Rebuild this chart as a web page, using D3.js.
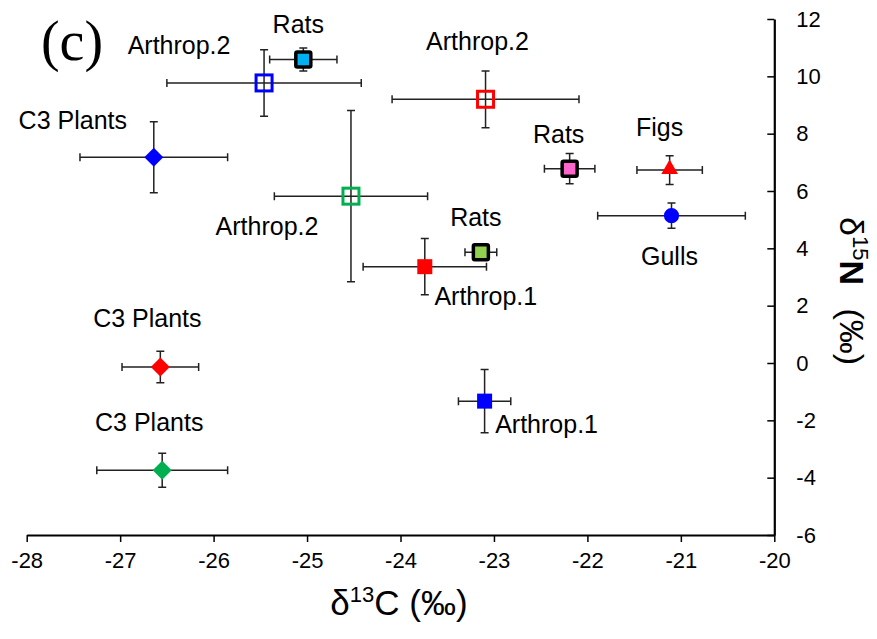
<!DOCTYPE html>
<html>
<head>
<meta charset="utf-8">
<script src="https://cdn.jsdelivr.net/npm/d3@7"></script>
<style>
  body { margin: 0; background: #fff; }
  text { font-family: "Liberation Sans", Arial, sans-serif; }
</style>
</head>
<body>
<div id="chart-container"></div>
<script>
// data (mean +/- sd)
const labels = ["Rats", "Arthrop.2", "C3 Plants", "Arthrop.2", "Arthrop.1", "Arthrop.2", "Rats",
                "Figs", "Gulls", "Rats", "C3 Plants", "C3 Plants", "Arthrop.1"];
const d13C   = [-25.04, -25.46, -26.64, -24.53, -23.74, -23.09, -22.19, -21.12, -21.10, -23.14, -26.57, -26.55, -23.10];
const d15N   = [10.59, 9.77, 7.18, 5.82, 3.36, 9.20, 6.78, 6.73, 5.14, 3.86, -0.14, -3.74, -1.33];
const errC   = [0.36, 1.04, 0.79, 0.82, 0.66, 1.00, 0.27, 0.35, 0.79, 0.17, 0.41, 0.70, 0.28];
const errN   = [0.40, 1.16, 1.24, 2.99, 0.98, 0.99, 0.53, 0.50, 0.44, 0.20, 0.55, 0.59, 1.10];
const shapes = ["rat", "open", "diamond", "open", "square", "open", "rat",
                "triangle", "circle", "rat", "diamond", "diamond", "square"];
const colors = ["#00b0f0", "#0000ff", "#0000ff", "#00b050", "#ff0000", "#ff0000", "#ff66cc",
                "#ff0000", "#0000ff", "#92d050", "#ff0000", "#00b050", "#0000ff"];
const xTicks = [-28, -27, -26, -25, -24, -23, -22, -21, -20];
const yTicks = [-6, -4, -2, 0, 2, 4, 6, 8, 10, 12];

// label placement (pixels from the point)
const labelDx = [-5, -85, -81, -84, 61, -8, -11, -10, -2, -5, -13, -13, 62];
const labelDy = [-26, -29, -28, 39, 38, -49, -26, -34, 49, -26, -40, -39, 32];

const data = labels.map((l, i) => ({
  label: l, x: d13C[i], y: d15N[i], ex: errC[i], ey: errN[i],
  shape: shapes[i], color: colors[i], dx: labelDx[i], dy: labelDy[i]
}));

const W = 877, H = 639;
const x = d3.scaleLinear().domain([-28, -20]).range([26.7, 774.3]);
const y = d3.scaleLinear().domain([-6, 12]).range([535, 19]);

const svg = d3.select("#chart-container")
  .append("svg")
  .attr("width", W)
  .attr("height", H);

// x axis
svg.append("g")
  .attr("transform", `translate(0,${y(-6)})`)
  .call(d3.axisBottom(x).tickValues(xTicks).tickSize(7).tickSizeOuter(0).tickPadding(10)
    .tickFormat(d => d))
  .call(g => g.select(".domain").attr("stroke-width", 2.2))
  .call(g => g.selectAll(".tick line").attr("stroke-width", 1.5))
  .call(g => g.selectAll(".tick text").style("font-size", "22px").attr("fill", "#000")
    .style("font-family", "'Liberation Sans', Arial, sans-serif"));

// y axis on the right, ticks pointing inward
svg.append("g")
  .attr("transform", `translate(${x(-20)},0)`)
  .call(d3.axisRight(y).tickValues(yTicks).tickSizeInner(-7).tickSizeOuter(0).tickPadding(22)
    .tickFormat(d => d))
  .call(g => g.select(".domain").attr("stroke-width", 2.2))
  .call(g => g.selectAll(".tick line").attr("stroke-width", 1.5))
  .call(g => g.selectAll(".tick text").style("font-size", "22px").attr("fill", "#000")
    .style("font-family", "'Liberation Sans', Arial, sans-serif"));

// error bars
const cap = 4;
const eb = svg.append("g").attr("stroke", "#222").attr("stroke-width", 1.5).attr("fill", "none");
data.forEach(d => {
  const cx = x(d.x), cy = y(d.y);
  const x0 = x(d.x - d.ex), x1 = x(d.x + d.ex);
  const y0 = y(d.y + d.ey), y1 = y(d.y - d.ey);
  eb.append("path").attr("d",
    `M${x0},${cy}H${x1}M${x0},${cy - cap}V${cy + cap}M${x1},${cy - cap}V${cy + cap}` +
    `M${cx},${y0}V${y1}M${cx - cap},${y0}H${cx + cap}M${cx - cap},${y1}H${cx + cap}`);
});

// markers
const marks = svg.append("g");
data.forEach(d => {
  const cx = x(d.x), cy = y(d.y);
  const g = marks.append("g").attr("transform", `translate(${cx},${cy})`);
  if (d.shape === "rat") {
    g.append("rect").attr("x", -7.5).attr("y", -7.5).attr("width", 15).attr("height", 15)
      .attr("rx", 1.5).attr("fill", d.color).attr("stroke", "#000").attr("stroke-width", 3.5);
  } else if (d.shape === "open") {
    g.append("rect").attr("x", -8).attr("y", -8).attr("width", 16).attr("height", 16)
      .attr("fill", "none").attr("stroke", d.color).attr("stroke-width", 3);
  } else if (d.shape === "square") {
    g.append("rect").attr("x", -7.5).attr("y", -7.5).attr("width", 15).attr("height", 15)
      .attr("fill", d.color);
  } else if (d.shape === "diamond") {
    g.append("path").attr("d", d3.symbol(d3.symbolSquare, 180)())
      .attr("transform", "rotate(45)").attr("fill", d.color);
  } else if (d.shape === "triangle") {
    g.append("path").attr("d", d3.symbol(d3.symbolTriangle, 120)())
      .attr("transform", "translate(0,-1)").attr("fill", d.color);
  } else {
    g.append("path").attr("d", d3.symbol(d3.symbolCircle, 180)()).attr("fill", d.color);
  }
});

// point labels
svg.append("g").selectAll("text")
  .data(data)
  .join("text")
  .attr("x", d => x(d.x) + d.dx)
  .attr("y", d => y(d.y) + d.dy)
  .attr("text-anchor", "middle")
  .style("font-size", "25px")
  .text(d => d.label);

// panel letter
svg.append("text")
  .attr("x", 72)
  .attr("y", 60)
  .attr("text-anchor", "middle")
  .style("font-family", "'Liberation Serif', 'Times New Roman', 'DejaVu Serif', serif")
  .style("font-size", "56px")
  .text("(c)");

// x axis title
const xt = svg.append("text")
  .attr("x", 399)
  .attr("y", 615)
  .attr("text-anchor", "middle")
  .style("font-size", "35px");
xt.append("tspan").text("δ");
xt.append("tspan").attr("dy", -13).style("font-size", "22px").text("13");
xt.append("tspan").attr("dy", 13).text("C (‰)");

// y axis title
const yt = svg.append("text")
  .attr("transform", `translate(840,291) rotate(90)`)
  .attr("text-anchor", "middle")
  .style("font-size", "34px");
yt.append("tspan").text("δ");
yt.append("tspan").attr("dy", -13).style("font-size", "22px").text("15");
yt.append("tspan").attr("dy", 13).style("font-weight", "bold").text("N");
yt.append("tspan").attr("dx", 14).text(" (‰)");
</script>
</body>
</html>
